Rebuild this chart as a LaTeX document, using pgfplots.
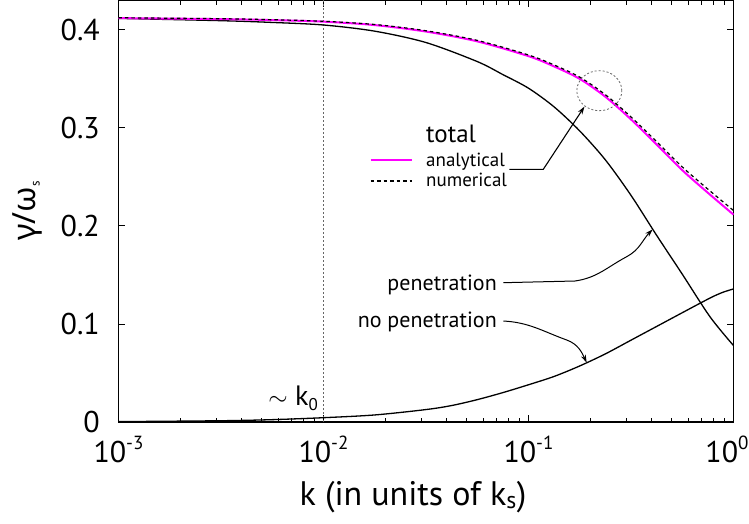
\documentclass[border=0pt]{standalone}
\usepackage{pgfplots}
\usepackage{pgfplotstable}
\pgfplotsset{compat=1.18}
\usepackage{fontspec}
\setmainfont{PT Sans}
\newfontfamily\grk{Noto Sans}
\usetikzlibrary{arrows.meta}
\definecolor{mag}{RGB}{255,0,255}
\newcommand{\sups}[1]{\raisebox{0.42em}{\fontsize{19}{19}\selectfont #1}}

\pgfplotstableread{
k val
0.001 0.4121
0.003162 0.4111
0.005623 0.4101
0.01 0.4085
0.01778 0.4050
0.03162 0.3984
0.05623 0.3884
0.1 0.3733
0.1334 0.3628
0.1778 0.3501
0.2371 0.3319
0.3162 0.3088
0.4217 0.2832
0.5623 0.2570
0.7499 0.2339
1.0 0.2116
}\analytical

\pgfplotstableread{
k val
0.001 0.4125
0.003162 0.4115
0.005623 0.4105
0.01 0.4089
0.01778 0.4056
0.03162 0.3992
0.05623 0.3894
0.1 0.3745
0.1334 0.3643
0.1778 0.3519
0.2371 0.3340
0.3162 0.3113
0.4217 0.2861
0.5623 0.2603
0.7499 0.2376
1.0 0.2158
}\numerical

\pgfplotstableread{
k val
0.001 0.4118
0.003162 0.4095
0.005623 0.4077
0.01 0.4051
0.01778 0.3988
0.03162 0.3872
0.05623 0.3678
0.07499 0.3545
0.1 0.3406
0.1334 0.3215
0.1778 0.2970
0.2371 0.2675
0.3162 0.2313
0.4217 0.1905
0.5623 0.1509
0.7674 0.1075
1.0 0.0780
}\penetration

\pgfplotstableread{
k val
0.001 0.0004
0.003162 0.0013
0.005623 0.0024
0.01 0.0044
0.01778 0.0072
0.03162 0.0127
0.04217 0.0168
0.05623 0.0228
0.07499 0.0300
0.1 0.0380
0.1334 0.0465
0.1778 0.0572
0.2371 0.0695
0.3162 0.0835
0.4217 0.0975
0.5623 0.1115
0.6871 0.1212
0.7943 0.1280
0.8913 0.1325
1.0 0.1358
}\nopenetration

\begin{document}
\begin{tikzpicture}
\useasboundingbox (-118.5pt,-101pt) rectangle (630.5pt,422pt);
\begin{axis}[
  at={(0pt,0pt)}, anchor=south west,
  scale only axis, width=615pt, height=422pt,
  xmode=log, xmin=1e-3, xmax=1, ymin=0, ymax=0.4306,
  xtick={0.001,0.01,0.1,1},
  xticklabels={10\sups{-3},10\sups{-2},10\sups{-1},10\sups{0}\rule{13pt}{0pt}},
  minor xtick={0.002,0.003,0.004,0.005,0.006,0.007,0.008,0.009,
               0.02,0.03,0.04,0.05,0.06,0.07,0.08,0.09,
               0.2,0.3,0.4,0.5,0.6,0.7,0.8,0.9},
  ytick={0,0.1,0.2,0.3,0.4},
  yticklabels={0,0.1,0.2,0.3,0.4},
  tick align=inside,
  major tick length=7pt, minor tick length=4.5pt,
  every tick/.style={black, line width=1pt},
  axis line style={line width=1.5pt},
  ticklabel style={font=\fontsize{30}{30}\selectfont, inner sep=0pt},
  xticklabel style={anchor=base, yshift=-40pt},
  yticklabel style={anchor=east, xshift=-18.5pt},
  xlabel={k (in units of k\textsubscript{s})},
  xlabel style={font=\fontsize{34}{34}\selectfont, at={(rel axis cs:0.479,-0.1967)}, anchor=base, inner sep=0pt},
  ylabel={{\grk γ/ω}\raisebox{-4pt}{\fontsize{13}{13}\selectfont s}},
  ylabel style={font=\fontsize{32}{32}\selectfont, at={(rel axis cs:-0.148,0.5)}, anchor=center, inner sep=0pt},
  clip=false,
]
\draw[gray!80!black, line width=0.8pt, dash pattern=on 2pt off 2pt] (axis cs:0.01,0) -- (axis cs:0.01,0.4306);
\addplot[black, line width=1.3pt, smooth] table[x=k,y=val] {\penetration};
\addplot[black, line width=1.3pt, smooth] table[x=k,y=val] {\nopenetration};
\addplot[mag, line width=2pt, smooth] table[x=k,y=val] {\analytical};
\addplot[black, line width=1.2pt, dash pattern=on 3.5pt off 3pt, smooth] table[x=k,y=val] {\numerical};
\end{axis}
% annotations
\draw[gray!80!black, line width=0.8pt, dash pattern=on 2pt off 2pt] (480.8pt,331.3pt) ellipse [x radius=22.5pt, y radius=20pt];
\draw[black, line width=1.1pt, -{Stealth[length=8pt,width=5pt]}] (390.8pt,252.7pt) -- (424.8pt,252.7pt) -- (466pt,315.5pt);
\draw[black, line width=1pt, -{Stealth[length=8pt,width=5pt]}] (384.8pt,139.3pt) -- (456.5pt,141pt) to[out=8,in=208] (508.2pt,165.3pt) to[out=28,in=226] (534.2pt,192.7pt);
\draw[black, line width=1pt, -{Stealth[length=8pt,width=5pt]}] (384.8pt,101pt) to[out=-3,in=160] (448.2pt,82pt) to[out=-20,in=115] (468.2pt,59.3pt);
\node[anchor=base east, inner sep=0pt, font=\fontsize{22}{22}\selectfont] at (378.5pt,132pt) {penetration};
\node[anchor=base east, inner sep=0pt, font=\fontsize{22}{22}\selectfont] at (378.5pt,95pt) {no penetration};
\node[anchor=base west, inner sep=0pt, font=\fontsize{25}{25}\selectfont] at (307.5pt,279.3pt) {total};
\node[anchor=base west, inner sep=0pt, font=\fontsize{19}{19}\selectfont] at (307.5pt,255.3pt) {analytical};
\node[anchor=base west, inner sep=0pt, font=\fontsize{19}{19}\selectfont] at (307.5pt,235.3pt) {numerical};
\draw[mag, line width=2pt] (252.2pt,262pt) -- (293.2pt,262pt);
\draw[black, line width=1.1pt, dash pattern=on 3.5pt off 3pt] (252.2pt,241pt) -- (293.2pt,241pt);
\node[anchor=base east, inner sep=0pt, font=\fontsize{28}{28}\selectfont] at (199.5pt,17pt) {$\sim$ k\raisebox{-5pt}{\fontsize{17}{17}\selectfont 0}};
\end{tikzpicture}
\end{document}
